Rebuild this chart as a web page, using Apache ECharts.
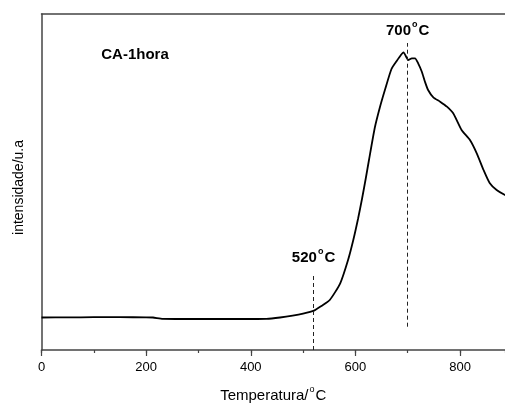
<!DOCTYPE html>
<html>
<head>
<meta charset="utf-8">
<script src="https://cdn.jsdelivr.net/npm/echarts@6/dist/echarts.min.js"></script>
<style>
  html, body { margin: 0; padding: 0; background: #fff; }
  #chart { width: 505px; height: 403px; }
</style>
</head>
<body>
<div id="chart"></div>
<script>
// TPR-style profile of sample CA-1hora: temperature (°C) vs signal (arbitrary units)
const temperatura = [0, 50, 100, 150, 200, 213, 232, 300, 380, 430, 456, 480, 500, 521, 535, 551, 571, 586, 596, 605, 613, 620, 626, 637, 647, 657, 669, 679, 687, 692, 697, 701, 708, 714, 720, 727, 733, 739, 749, 762, 775, 787, 803, 819, 832, 845, 857, 870, 886, 900];
const intensidade = [32.5, 32.6, 32.8, 32.8, 32.7, 32.5, 31.2, 31.0, 31.0, 31.2, 32.5, 34.3, 36.3, 39.3, 44.0, 50.0, 66.7, 90.0, 110.0, 131.0, 152.0, 172.0, 190.0, 222.0, 243.0, 261.0, 281.0, 289.0, 295.0, 297.7, 293.3, 290.0, 291.7, 291.7, 286.7, 278.3, 268.3, 260.0, 252.7, 248.3, 243.3, 236.7, 220.0, 210.0, 196.7, 180.0, 166.7, 160.0, 155.0, 152.0];

// reference temperatures marked with dashed verticals: [x, bottom, top]
const marcaTemp = [520, 700];
const marcaBase = [0, 23.3];
const marcaTopo = [77, 307];

const xTicks = [0, 200, 400, 600, 800];

const chart = echarts.init(document.getElementById('chart'));

const fontFam = 'Liberation Sans, Arial, sans-serif';
const axisColor = '#444';

function degRich(weight, size) {
  return {
    n: { fontFamily: fontFam, fontWeight: weight, fontSize: size, color: '#000', lineHeight: size + 3, verticalAlign: 'bottom' },
    s: { fontFamily: fontFam, fontWeight: weight, fontSize: 9, color: '#000', lineHeight: size + 3, verticalAlign: 'top', padding: [0, 1, 0, 1] }
  };
}

const markData = marcaTemp.map((t, i) => [
  {
    coord: [t, marcaBase[i]],
    label: {
      show: true,
      position: 'end',
      distance: i === 0 ? 8 : 5,
      formatter: '{n|' + t + '}{s|o}{n|C}',
      rich: degRich('bold', 15)
    }
  },
  { coord: [t, marcaTopo[i]] }
]);

chart.setOption({
  animation: false,
  backgroundColor: '#fff',
  grid: { left: 41.5, top: 14, right: 0, bottom: 53, containLabel: false, outerBoundsMode: 'none' },
  xAxis: [
    {
      type: 'value',
      min: 0, max: 886, interval: 200,
      name: '{n|Temperatura/}{s|o}{n|C}',
      nameLocation: 'middle',
      nameGap: 35,
      nameTextStyle: { rich: degRich('normal', 15) },
      axisLine: { show: true, onZero: false, lineStyle: { color: axisColor, width: 1.5 } },
      axisTick: { show: true, inside: false, length: 6, lineStyle: { color: axisColor, width: 1.2 } },
      splitLine: { show: false },
      axisLabel: {
        margin: 11, fontFamily: fontFam, fontSize: 13, color: '#000',
        showMaxLabel: false,
        formatter: v => (xTicks.indexOf(v) >= 0 ? String(v) : '')
      }
    },
    {
      // short ticks every 100 °C
      type: 'value',
      position: 'bottom',
      min: 0, max: 886, interval: 100,
      axisLine: { show: false },
      axisTick: { show: true, inside: false, length: 3, lineStyle: { color: axisColor, width: 1.2 } },
      axisLabel: { show: false },
      splitLine: { show: false }
    },
    {
      // top frame line
      type: 'value',
      position: 'top',
      min: 0, max: 886,
      axisLine: { show: true, lineStyle: { color: axisColor, width: 1.5 } },
      axisTick: { show: false },
      axisLabel: { show: false },
      splitLine: { show: false }
    }
  ],
  yAxis: {
    type: 'value',
    min: 0, max: 336,
    axisLine: { show: true, lineStyle: { color: axisColor, width: 1.5 } },
    axisTick: { show: false },
    axisLabel: { show: false },
    splitLine: { show: false }
  },
  graphic: [
    {
      type: 'text',
      x: 19, y: 187.5,
      rotation: Math.PI / 2,
      style: {
        text: 'intensidade/u.a',
        font: '14px ' + fontFam,
        fill: '#000',
        align: 'center',
        verticalAlign: 'middle'
      }
    },
    {
      type: 'text',
      x: 135, y: 55,
      style: {
        text: 'CA-1hora',
        font: 'bold 15px ' + fontFam,
        fill: '#000',
        align: 'center',
        verticalAlign: 'middle'
      }
    }
  ],
  series: [
    {
      type: 'line',
      xAxisIndex: 0,
      data: temperatura.map((t, i) => [t, intensidade[i]]),
      showSymbol: false,
      smooth: 0.2,
      lineStyle: { color: '#000', width: 1.8 },
      clip: true,
      markLine: {
        silent: true,
        symbol: ['none', 'none'],
        lineStyle: { color: '#222', width: 1, type: [4, 3] },
        data: markData
      }
    }
  ]
});
</script>
</body>
</html>
